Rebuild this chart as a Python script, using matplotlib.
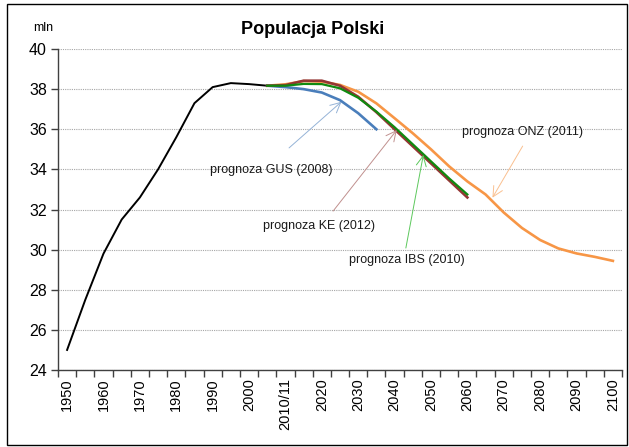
import numpy as np
import matplotlib
matplotlib.use("Agg")
import matplotlib.pyplot as plt
from matplotlib import font_manager
from matplotlib.patches import Rectangle

# pick a narrow Arial-like font if we have one
names = {f.name for f in font_manager.fontManager.ttflist}
if "Liberation Sans Narrow" in names:
    note_font = "Liberation Sans Narrow"
    note_size = 10.5
else:
    note_font = "Liberation Sans"
    note_size = 9
plt.rcParams["font.family"] = ["Liberation Sans", "DejaVu Sans"]

# historical data (mln)
hist_years = [1950, 1955, 1960, 1965, 1970, 1975, 1980, 1985, 1990, 1995, 2000, 2005]
hist_pop = [25.0, 27.5, 29.8, 31.5, 32.6, 34.0, 35.6, 37.3, 38.1, 38.3, 38.25, 38.17]

# GUS (2008)
gus_years = [2005, 2010, 2015, 2020, 2025, 2030, 2035]
gus_pop = [38.17, 38.10, 38.0, 37.83, 37.45, 36.8, 36.0]

# KE (2012) and IBS (2010)
ke_years = [2005, 2010, 2015, 2020, 2025, 2030, 2035, 2040, 2045, 2050, 2055, 2060]
ke_pop = [38.17, 38.20, 38.42, 38.42, 38.17, 37.62, 36.85, 36.0, 35.15, 34.3, 33.45, 32.6]
ibs_years = ke_years
ibs_pop = [38.17, 38.17, 38.26, 38.25, 38.04, 37.57, 36.88, 36.1, 35.25, 34.4, 33.55, 32.75]

# ONZ (2011)
onz_years = list(range(2005, 2101, 5))
onz_pop = [38.17, 38.24, 38.40, 38.37, 38.21, 37.87, 37.29, 36.55, 35.80, 35.0,
           34.15, 33.4, 32.75, 31.85, 31.08, 30.48, 30.06, 29.81, 29.64, 29.44]

label_years = list(range(1950, 2101, 10))
label_text = [str(y) if y != 2010 else "2010/11" for y in label_years]

fig = plt.figure(figsize=(6.29, 4.47), dpi=100)
ax = fig.add_axes([58/629, 1-370/447, 564/629, 321/447])

ax.plot(hist_years, hist_pop, color="black", lw=1.4, zorder=3)
ax.plot(onz_years, onz_pop, color="#F79646", lw=1.9, zorder=3)
ax.plot(gus_years, gus_pop, color="#4A7EBB", lw=1.9, zorder=3)
ax.plot(ke_years, ke_pop, color="#943634", lw=1.9, zorder=3)
ax.plot(ibs_years, ibs_pop, color="#108A10", lw=1.6, zorder=4)

ax.set_xlim(1947.5, 2102.5)
ax.set_ylim(24, 40)
ax.set_yticks(np.arange(24, 41, 2))
ax.yaxis.grid(True, color="#A6A6A6", linestyle=(0, (1, 1)), lw=0.8)
ax.set_axisbelow(True)

ax.set_xticks(label_years)
ax.set_xticklabels(label_text, rotation=90, fontsize=10.5)
ax.set_xticks(np.arange(1947.5, 2103, 5), minor=True)
ax.tick_params(axis="x", which="major", length=0, pad=6)
ax.tick_params(axis="x", which="minor", length=5, width=1, color="#404040")
ax.tick_params(axis="y", length=5, width=1, color="#404040", labelsize=11.5, pad=3)

for s in ["top", "right"]:
    ax.spines[s].set_visible(False)
for s in ["left", "bottom"]:
    ax.spines[s].set_color("#404040")
    ax.spines[s].set_linewidth(1)

# annotations: label position, arrow tail, arrow head
notes = [
    ("prognoza GUS (2008)", (2006.0, 33.97), (2011.0, 35.07), (2025.4, 37.37), "#95B3D7"),
    ("prognoza KE (2012)", (2019.2, 31.18), (2023.1, 31.92), (2040.6, 35.96), "#C0908E"),
    ("prognoza IBS (2010)", (2043.4, 29.48), (2043.1, 30.08), (2047.9, 34.72), "#5CC85C"),
    ("prognoza ONZ (2011)", (2075.2, 35.86), (2075.2, 35.16), (2066.9, 32.59), "#FAC090"),
]
for txt, pos, tail, head, col in notes:
    ax.text(pos[0], pos[1], txt, family=[note_font, "DejaVu Sans"], fontsize=note_size,
            ha="center", va="center", color="#1a1a1a", zorder=5)
    ax.annotate("", xy=head, xytext=tail,
                arrowprops=dict(arrowstyle="->,head_length=0.6,head_width=0.3",
                                color=col, lw=0.7, shrinkA=0, shrinkB=0,
                                mutation_scale=12), zorder=5)

fig.text(313/629, 1-29/447, "Populacja Polski", ha="center", va="center",
         fontsize=13, fontweight="bold")
fig.text(43/629, 1-28/447, "mln", ha="center", va="center", fontsize=9)

fig.patches.append(Rectangle((7/629, 2/447), 620/629, 441/447, transform=fig.transFigure,
                             fill=False, edgecolor="black", lw=1))

fig.savefig("out.png", dpi=100)
